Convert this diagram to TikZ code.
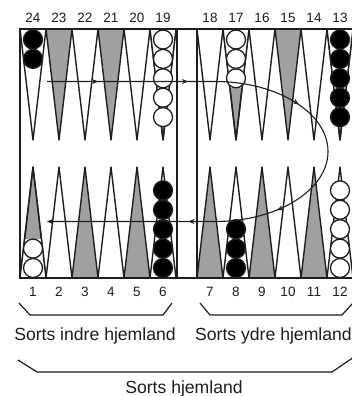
\documentclass[tikz,border=0pt]{standalone}
\usepackage{fontspec}
\setmainfont{Liberation Sans}
\usetikzlibrary{arrows.meta,decorations.markings}
\definecolor{ptgray}{HTML}{A0A0A0}
\definecolor{ink}{HTML}{1E1E1E}
\tikzset{
  mtip/.tip={Stealth[length=6pt,width=5pt,inset=2pt]},
  tri/.style={draw=ink, line width=1.4pt, line join=round},
  frame/.style={draw=ink, line width=1.6pt},
  chk/.style={draw=ink, line width=1.3pt},
  numlab/.style={font=\fontsize{13.5}{13.5}\selectfont, text=ink, inner sep=0pt, anchor=base},
  biglab/.style={font=\fontsize{17.6}{17.6}\selectfont, text=ink, inner sep=0pt, anchor=base},
  brace/.style={draw=ink, line width=1.2pt, line join=round},
  move/.style={draw=ink, line width=1.1pt, -mtip,
    decoration={markings,
      mark=at position 51pt with {\arrow{mtip}},
      mark=at position 141pt with {\arrow{mtip}},
      mark=at position 256pt with {\arrow{mtip}},
      mark=at position 396pt with {\arrow{mtip}},
      mark=at position 486pt with {\arrow{mtip}}},
    postaction={decorate}}
}
\begin{document}
\begin{tikzpicture}[x=1pt,y=1pt]
\useasboundingbox (0,0) rectangle (352,-396);
\clip (0,0) rectangle (352,-396);
\fill[white] (0,0) rectangle (352,-396);
% top points
\foreach \x/\f in {20/white,46/ptgray,72/white,98/ptgray,124/white,150/ptgray,
                   197/white,223/ptgray,249/white,275/ptgray,301/white,327/ptgray}
  \filldraw[tri, fill=\f] (\x,-29) -- (\x+26,-29) -- (\x+13,-140) -- cycle;
% bottom points
\foreach \x/\f in {20/ptgray,46/white,72/ptgray,98/white,124/ptgray,150/white,
                   197/ptgray,223/white,249/ptgray,275/white,301/ptgray,327/white}
  \filldraw[tri, fill=\f] (\x,-278) -- (\x+26,-278) -- (\x+13,-167) -- cycle;
% white ground behind checker stacks on grey points (top)
\foreach \x/\d in {150/126, 223/88, 327/126} {
  \begin{scope}
    \clip (\x,-29) -- (\x+26,-29) -- (\x+13,-140) -- cycle;
    \fill[white] (\x,-29) rectangle (\x+26,-\d);
  \end{scope}
  \draw[tri] (\x,-29) -- (\x+26,-29) -- (\x+13,-140) -- cycle;
}
% white ground behind checker stack on point 1 (bottom)
\begin{scope}
  \clip (20,-278) -- (46,-278) -- (33,-167) -- cycle;
  \fill[white] (20,-278) rectangle (46,-239);
\end{scope}
\draw[tri] (20,-278) -- (46,-278) -- (33,-167) -- cycle;
% frame and bar
\draw[frame] (20,-29) rectangle (354,-278);
\draw[frame] (177,-29) -- (177,-278);
\draw[frame] (197,-29) -- (197,-278);
% checkers top
\foreach \x/\n/\c in {33/2/black,163/5/white,236/3/white,340/5/black}
  \foreach \k in {1,...,\n}
    \filldraw[chk, fill=\c] (\x,{-39.5-19.4*(\k-1)}) circle (9.5);
% checkers bottom
\foreach \x/\n/\c in {33/2/white,163/5/black,236/3/black,340/5/white}
  \foreach \k in {1,...,\n}
    \filldraw[chk, fill=\c] (\x,{-268+19.4*(\k-1)}) circle (9.5);
% numbers
\foreach \n/\x in {24/33,23/59,22/85,21/111,20/137,19/163,18/210,17/236,16/262,15/288,14/314,13/340}
  \node[numlab] (n\n) at (\x,-23) {\n};
\foreach \n/\x in {1/33,2/59,3/85,4/111,5/137,6/163,7/210,8/236,9/262,10/288,11/314,12/340}
  \node[numlab] (n\n) at (\x,-296) {\n};
% movement path
\coordinate (s) at (47,-81.5);
\coordinate (t) at (215,-81.5);
\coordinate (e) at (47,-221.5);
\draw[move] (s) -- (t) arc[start angle=90, end angle=-90, x radius=113, y radius=70] -- (e);
% braces
\draw[brace] (19,-303) -- (30,-315) -- (163,-315) -- (172,-303);
\draw[brace] (200,-303) -- (210,-315) -- (342,-315) -- (353,-303);
\draw[brace] (18,-360) -- (37,-372) -- (332,-372) -- (354,-357);
% labels
\node[biglab] (inner) at (95,-340) {Sorts indre hjemland};
\node[biglab, anchor=base west] (outer) at (195,-340) {Sorts ydre hjemland};
\node[biglab] (home) at (184,-393) {Sorts hjemland};
\end{tikzpicture}
\end{document}
